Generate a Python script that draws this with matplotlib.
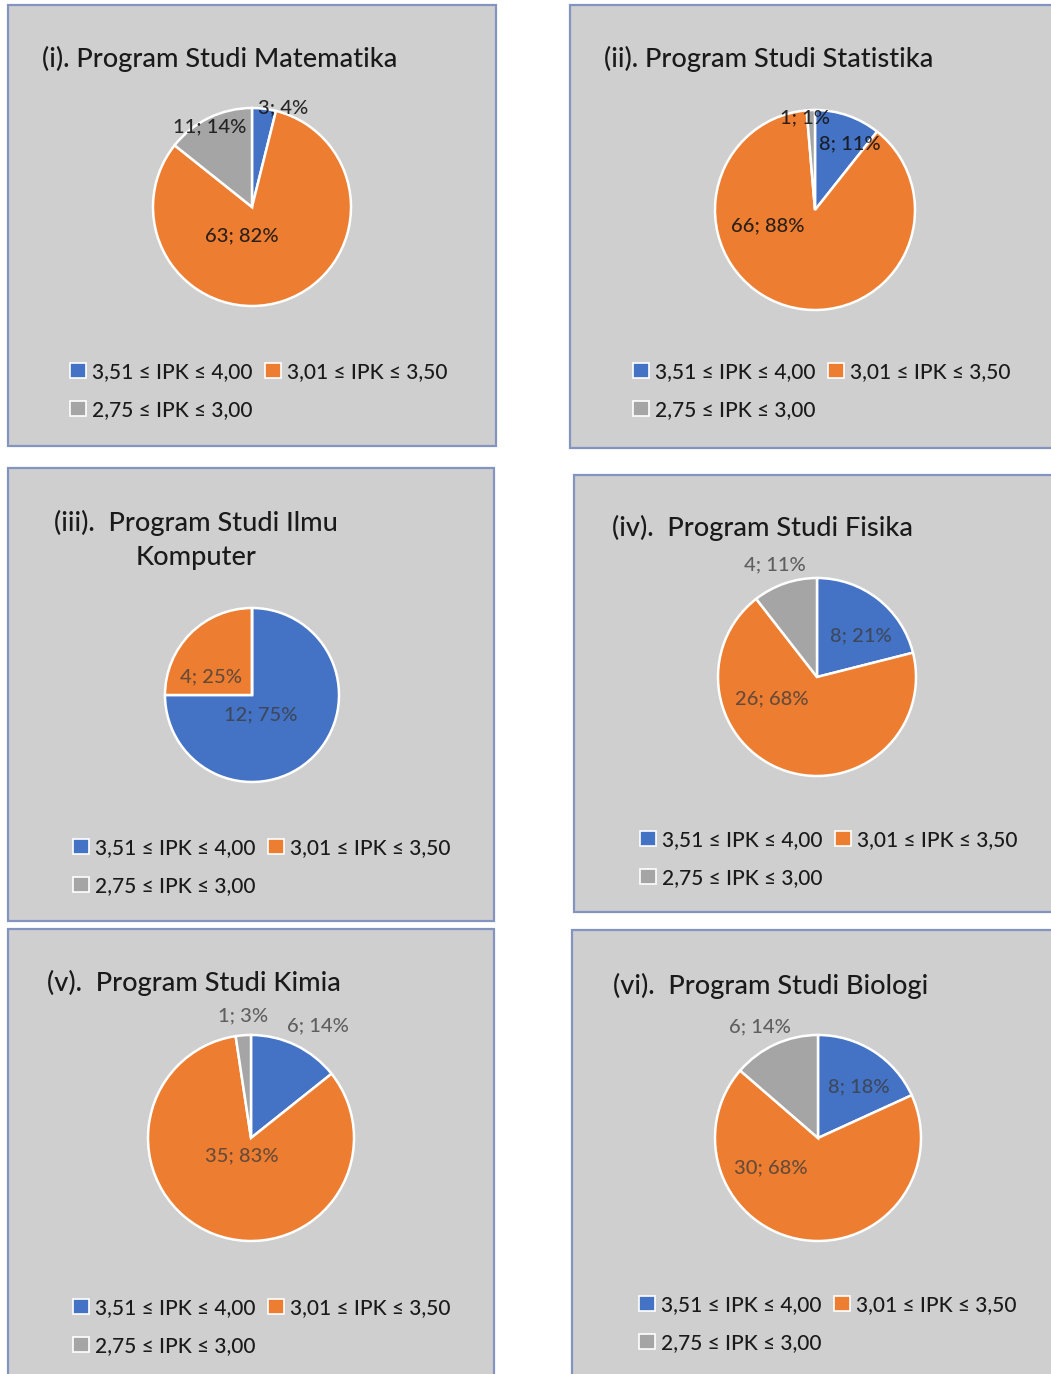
import matplotlib.pyplot as plt
from matplotlib.patches import Rectangle, Patch

plt.rcParams['font.family'] = ['Lato', 'DejaVu Sans']
plt.rcParams['font.weight'] = 'medium'

W, H = 1051, 1374

categories = ['3,51 ≤ IPK ≤ 4,00', '3,01 ≤ IPK ≤ 3,50', '2,75 ≤ IPK ≤ 3,00']
colors = ['#4472C4', '#ED7D31', '#A5A5A5']

titles = ['(i). Program Studi Matematika',
          '(ii). Program Studi Statistika',
          '(iii).  Program Studi Ilmu\nKomputer',
          '(iv).  Program Studi Fisika',
          '(v).  Program Studi Kimia',
          '(vi).  Program Studi Biologi']

# jumlah mahasiswa per kategori IPK (biru, oranye, abu)
matematika = [3, 63, 11]
statistika = [8, 66, 1]
ilmu_komputer = [12, 4, 0]
fisika = [8, 26, 4]
kimia = [6, 35, 1]
biologi = [8, 30, 6]

# persen seperti tertulis di label
pct_matematika = [4, 82, 14]
pct_statistika = [11, 88, 1]
pct_ilmu_komputer = [75, 25, 0]
pct_fisika = [21, 68, 11]
pct_kimia = [14, 83, 3]
pct_biologi = [18, 68, 14]

counts = [matematika, statistika, ilmu_komputer, fisika, kimia, biologi]
pcts = [pct_matematika, pct_statistika, pct_ilmu_komputer, pct_fisika, pct_kimia, pct_biologi]

# layout in pixels: panel box, pie centre + radius, title pos, legend pos
boxes = [(8, 5, 496, 446), (570, 5, 1060, 448), (8, 468, 494, 921),
         (574, 475, 1060, 912), (8, 929, 494, 1380), (572, 930, 1060, 1380)]
pies = [(252, 207, 99), (815, 210, 100), (252, 695, 87),
        (817, 677, 99), (251, 1138, 103), (818, 1138, 103)]
title_pos = [(42, 59, 'left'), (604, 59, 'left'), (196, 540, 'center'),
             (612, 528, 'left'), (47, 983, 'left'), (613, 986, 'left')]
legend_pos = [(70, 362), (633, 362), (73, 838), (640, 830), (73, 1298), (639, 1295)]
label_off = [
    [(0.31, 1.00), (-0.10, -0.29), (-0.43, 0.81)],
    [(0.35, 0.66), (-0.47, -0.16), (-0.10, 0.92)],
    [(0.10, -0.23), (-0.47, 0.21), None],
    [(0.44, 0.42), (-0.46, -0.22), (-0.43, 1.13)],
    [(0.65, 1.09), (-0.09, -0.17), (-0.08, 1.19)],
    [(0.40, 0.50), (-0.46, -0.29), (-0.56, 1.08)],
]

fig = plt.figure(figsize=(W / 100, H / 100), dpi=100)
fig.patch.set_facecolor('white')

for i in range(6):
    x0, y0, x1, y1 = boxes[i]
    fig.patches.append(Rectangle((x0 / W, 1 - y1 / H), (x1 - x0) / W, (y1 - y0) / H,
                                 transform=fig.transFigure, facecolor='#d0cfd0',
                                 edgecolor='#8294bf', linewidth=1.6, zorder=-5))

    cx, cy, r = pies[i]
    ax = fig.add_axes([(cx - r) / W, 1 - (cy + r) / H, 2 * r / W, 2 * r / H])
    ax.set_zorder(2)
    ax.pie(counts[i], colors=colors, startangle=90, counterclock=False, radius=1,
           wedgeprops=dict(edgecolor='white', linewidth=1.8))
    ax.set_xlim(-1, 1)
    ax.set_ylim(-1, 1)
    ax.axis('off')

    if i < 2:
        lab_col, lab_alpha = '#151515', 0.9
    else:
        lab_col, lab_alpha = '#3a3a3a', 0.75
    for j in range(3):
        if counts[i][j] == 0:
            continue
        dx, dy = label_off[i][j]
        ax.text(dx, dy, f'{counts[i][j]}; {pcts[i][j]}%', ha='center', va='center',
                fontsize=14.5, color=lab_col, alpha=lab_alpha, clip_on=False)

    tx, ty, ha = title_pos[i]
    fig.text(tx / W, 1 - ty / H, titles[i], ha=ha, va='center', fontsize=19.5,
             color='#1a1a1a', multialignment='center', linespacing=1.45)

    handles = [Patch(facecolor=colors[k], edgecolor='white', linewidth=1.2) for k in (0, 2, 1)]
    labels = [categories[k] for k in (0, 2, 1)]
    lx, ly = legend_pos[i]
    fig.legend(handles, labels, loc='upper left', bbox_to_anchor=(lx / W, 1 - ly / H),
               ncol=2, frameon=False, fontsize=15, handlelength=0.75, handleheight=0.75,
               handletextpad=0.3, columnspacing=0.6, labelspacing=0.85, borderpad=0,
               borderaxespad=0, labelcolor='#1a1a1a')

fig.savefig('out.png', dpi=100)
